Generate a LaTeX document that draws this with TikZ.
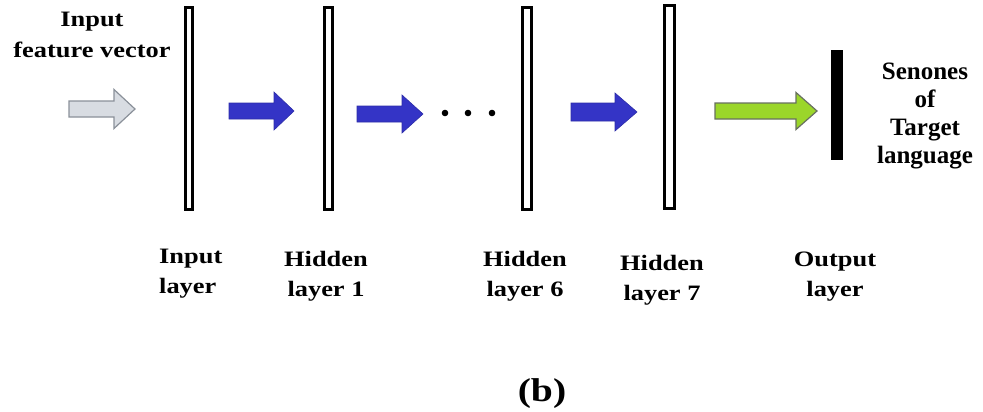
\documentclass[tikz,border=0pt]{standalone}
\usepackage{fontspec}
\newfontfamily\timesfont{Liberation Serif}
\newfontfamily\widefont[FakeStretch=1.2]{Liberation Serif}
\definecolor{arrblue}{HTML}{3434C6}
\definecolor{arrgray}{HTML}{D8DCE2}
\definecolor{arrgrayline}{HTML}{8A9099}
\definecolor{arrgreen}{HTML}{9BD62A}
\definecolor{arrgreenline}{HTML}{687060}
\tikzset{
  layerbar/.style={draw=black, line width=3pt, fill=white},
  outbar/.style={fill=black},
  lbl/.style={font=\fontsize{22}{29.5}\widefont\bfseries, align=center, inner sep=0pt},
  tlbl/.style={font=\fontsize{25}{27.7}\timesfont\bfseries, align=center, inner sep=0pt},
  grayarr/.style={fill=arrgray, draw=arrgrayline, line width=1.2pt, line join=miter},
  bluearr/.style={fill=arrblue, draw=arrblue!85!black, line width=0.6pt},
  greenarr/.style={fill=arrgreen, draw=arrgreenline, line width=1.2pt},
}
% #1 style, #2 x start, #3 head start, #4 tip, #5 y centre, #6 shaft half, #7 head half
\newcommand{\fatarrow}[7]{%
  \path[#1] (#2,-#5+#6) -- (#3,-#5+#6) -- (#3,-#5+#7) -- (#4,-#5) -- (#3,-#5-#7)
    -- (#3,-#5-#6) -- (#2,-#5-#6) -- cycle;}
\begin{document}
\begin{tikzpicture}[x=1pt,y=1pt]
\useasboundingbox (0,0) rectangle (983,-412);
% layer bars
\path[layerbar] (185.5,-7.5) rectangle (192.5,-209.5);
\path[layerbar] (324.5,-7.5) rectangle (332.5,-209.5);
\path[layerbar] (522.5,-7.5) rectangle (531.5,-209.5);
\path[layerbar] (664.5,-5.5) rectangle (674.5,-208.5);
\path[outbar] (831,-50) rectangle (843,-160);
% arrows
\fatarrow{grayarr}{69}{114}{135}{109}{8}{19.5}
\fatarrow{bluearr}{229}{274}{294}{111}{8}{19}
\fatarrow{bluearr}{357}{402}{423}{114}{8}{19}
\fatarrow{bluearr}{571}{615}{637}{112}{9}{19}
\fatarrow{greenarr}{715}{796}{817}{111}{8}{18.5}
% dots
\foreach \i/\x in {1/445,2/468,3/492}
  \fill (\x,-113) circle (3.3pt) coordinate (dot\i);
% texts
\node[lbl, font=\fontsize{22}{31}\widefont\bfseries, anchor=base] (infeat) at (92,-58) {Input\\feature vector};
\node[lbl, align=left, anchor=base west] (inlay) at (159,-293) {Input\\layer};
\node[lbl, anchor=base] (h1) at (326,-296) {Hidden\\layer 1};
\node[lbl, anchor=base] (h6) at (525,-296) {Hidden\\layer 6};
\node[lbl, anchor=base] (h7) at (662,-300) {Hidden\\layer 7};
\node[lbl, anchor=base] (outl) at (835,-296) {Output\\layer};
\node[tlbl, anchor=base] (sen) at (925,-163) {Senones\\of\\Target\\language};
\node[font=\fontsize{33}{36}\widefont\bfseries, inner sep=0pt, anchor=base] (cap) at (542,-401) {(b)};
\end{tikzpicture}
\end{document}
